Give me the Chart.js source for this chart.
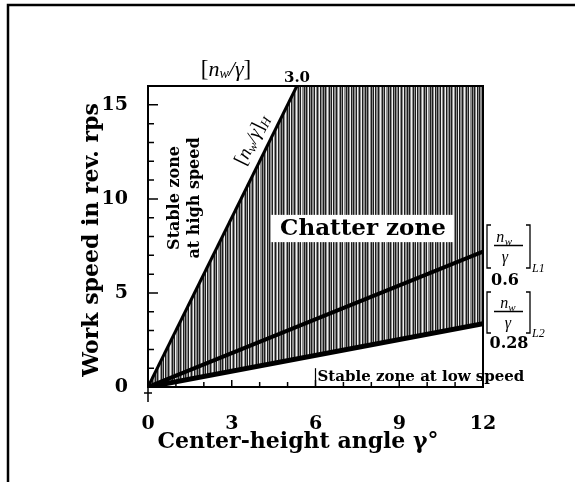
<!DOCTYPE html>
<html>
<head>
<meta charset="utf-8">
<script src="https://cdn.jsdelivr.net/npm/chart.js@4.4.0/dist/chart.umd.min.js"></script>
<style>
  html, body { margin: 0; padding: 0; background: #fff; }
  canvas { display: block; }
</style>
</head>
<body>
<canvas id="chart" width="575" height="482"></canvas>
<script>
// stability boundaries: gamma (deg) on x, work speed n_w (rps) on y
const highSpeedLine = [{x: 0, y: 0}, {x: 5.333, y: 16}];   // [n_w/γ]H  = 3.0
const lowSpeedLine1 = [{x: 0, y: 0}, {x: 12, y: 7.2}];     // [n_w/γ]L1 = 0.6
const lowSpeedLine2 = [{x: 0, y: 0}, {x: 12, y: 3.36}];    // [n_w/γ]L2 = 0.28
// chatter zone lies between the H line and the L2 line
const chatterZone = [{x: 0, y: 0}, {x: 5.333, y: 16}, {x: 12, y: 16}, {x: 12, y: 3.36}, {x: 0, y: 0}];

const xTicks = [0, 3, 6, 9, 12];
const yTicks = [0, 5, 10, 15];
const xMinor = [1, 2, 3, 4, 5, 6, 7, 8, 9, 10, 11];
const yMinor = [1, 2, 3, 4, 5, 6, 7, 8, 9, 10, 11, 12, 13, 14, 15];

const SERIF = '"DejaVu Serif", "Liberation Serif", serif';
const TIMES = '"Liberation Serif", "Times New Roman", serif';

// vertical hatching used for the chatter zone
function hatch() {
  const cols = 'kgwgkgkwggkgkgwkgkggkwgkgwkggkgkgwgkgkwkgg';
  const shade = {k: '#1e1e1e', w: '#f0f0f0', g: '#8e8e8e'};
  const c = document.createElement('canvas');
  c.width = cols.length;
  c.height = 2;
  const g = c.getContext('2d');
  for (let i = 0; i < cols.length; i++) {
    g.fillStyle = shade[cols[i]];
    g.fillRect(i, 0, 1, 2);
  }
  return g.createPattern(c, 'repeat');
}

// draws pieces of text in a row: [text, font, dy]
function richText(ctx, x, y, parts) {
  let w = 0;
  parts.forEach(p => { ctx.font = p[1]; w += ctx.measureText(p[0]).width; });
  let cx = x - w / 2;
  parts.forEach(p => {
    ctx.font = p[1];
    ctx.fillText(p[0], cx, y + (p[2] || 0));
    cx += ctx.measureText(p[0]).width;
  });
}

function ratioLabel(ctx, x, top, bottom, sub) {
  const mid = (top + bottom) / 2 - 1;
  ctx.lineWidth = 1.3;
  ctx.beginPath();
  ctx.moveTo(x + 5, top); ctx.lineTo(x + 1, top); ctx.lineTo(x + 1, bottom); ctx.lineTo(x + 5, bottom);
  ctx.moveTo(x + 40, top); ctx.lineTo(x + 44, top); ctx.lineTo(x + 44, bottom); ctx.lineTo(x + 40, bottom);
  ctx.moveTo(x + 8, mid); ctx.lineTo(x + 37, mid);
  ctx.stroke();
  ctx.textBaseline = 'alphabetic';
  richText(ctx, x + 22, mid - 4, [['n', 'italic 16px ' + TIMES], ['w', 'italic 11px ' + TIMES, 3]]);
  richText(ctx, x + 22, mid + 16, [['γ', 'italic 16px ' + TIMES]]);
  ctx.font = 'italic 12px ' + TIMES;
  ctx.textAlign = 'left';
  ctx.fillText(sub, x + 46, bottom + 4);
}

const annotate = {
  id: 'annotate',
  beforeDraw(chart) {
    const ctx = chart.ctx;
    ctx.save();
    ctx.fillStyle = '#fff';
    ctx.fillRect(0, 0, chart.width, chart.height);
    ctx.strokeStyle = '#000';
    ctx.lineWidth = 2.5;
    ctx.beginPath();
    ctx.moveTo(8, chart.height); ctx.lineTo(8, 5); ctx.lineTo(chart.width, 5);
    ctx.stroke();
    ctx.restore();
  },
  afterDatasetsDraw(chart) {
    const ctx = chart.ctx;
    const xs = chart.scales.x, ys = chart.scales.y;
    const a = chart.chartArea;
    const px = v => xs.getPixelForValue(v);
    const py = v => ys.getPixelForValue(v);
    ctx.save();
    ctx.fillStyle = '#000';
    ctx.strokeStyle = '#000';

    // frame and inward ticks
    ctx.lineWidth = 2;
    ctx.strokeRect(a.left, a.top, a.right - a.left, a.bottom - a.top);
    ctx.lineWidth = 1.5;
    ctx.beginPath();
    yMinor.forEach(v => {
      const len = yTicks.includes(v) ? 10 : 6;
      ctx.moveTo(a.left, py(v)); ctx.lineTo(a.left + len, py(v));
    });
    xMinor.forEach(v => {
      const len = xTicks.includes(v) ? 7 : 5;
      ctx.moveTo(px(v), a.bottom); ctx.lineTo(px(v), a.bottom - len);
    });
    ctx.moveTo(a.left, a.bottom); ctx.lineTo(a.left, a.bottom + 15);
    ctx.moveTo(a.left - 4, a.bottom + 6); ctx.lineTo(a.left + 4, a.bottom + 6);
    ctx.stroke();

    // chatter zone label
    ctx.fillStyle = '#fff';
    ctx.fillRect(px(4.4), py(9.15), px(10.95) - px(4.4), py(7.7) - py(9.15));
    ctx.fillStyle = '#000';
    ctx.font = 'bold 23px ' + SERIF;
    ctx.textAlign = 'center';
    ctx.textBaseline = 'middle';
    ctx.fillText('Chatter zone', px(7.7), py(8.42));

    // stable zone at high speed
    ctx.save();
    ctx.translate(px(1.33), py(10.05));
    ctx.rotate(-Math.PI / 2);
    ctx.font = 'bold 16px ' + SERIF;
    ctx.fillText('Stable zone', 0, -10);
    ctx.fillText('at high speed', 0, 10);
    ctx.restore();

    // [n_w/γ]H along the upper boundary
    ctx.save();
    const ang = Math.atan2(py(16) - py(0), px(5.333) - px(0));
    ctx.translate(px(4.25), py(12.75));
    ctx.rotate(ang);
    ctx.textAlign = 'left';
    ctx.textBaseline = 'middle';
    richText(ctx, 0, -16, [['[', '20px ' + TIMES], ['n', 'italic 19px ' + TIMES], ['w', 'italic 13px ' + TIMES, 4],
      ['/γ', 'italic 19px ' + TIMES], [']', '20px ' + TIMES], ['H', 'italic 13px ' + TIMES, 5]]);
    ctx.restore();

    // labels above the plot
    ctx.textAlign = 'left';
    ctx.textBaseline = 'middle';
    richText(ctx, 226, 70, [['[', '23px ' + TIMES], ['n', 'italic 22px ' + TIMES], ['w', 'italic 14px ' + TIMES, 4],
      ['/γ', 'italic 22px ' + TIMES], [']', '23px ' + TIMES]]);
    ctx.font = 'bold 15px ' + SERIF;
    ctx.textAlign = 'center';
    ctx.fillText('3.0', 297, 78);

    // low speed boundary labels
    ratioLabel(ctx, 486, 225, 268, 'L1');
    ratioLabel(ctx, 486, 292, 333, 'L2');
    ctx.font = 'bold 16px ' + SERIF;
    ctx.textAlign = 'center';
    ctx.textBaseline = 'middle';
    ctx.fillText('0.6', 505, 281);
    ctx.fillText('0.28', 509, 344);

    // stable zone at low speed
    ctx.lineWidth = 1.2;
    ctx.beginPath();
    ctx.moveTo(px(6), py(1.0)); ctx.lineTo(px(6), a.bottom);
    ctx.stroke();
    ctx.font = 'bold 15px ' + SERIF;
    ctx.textAlign = 'left';
    ctx.textBaseline = 'alphabetic';
    ctx.fillText('Stable zone at low speed', px(6) + 2, 381);

    // axis titles
    ctx.font = 'bold 22px ' + SERIF;
    ctx.textAlign = 'center';
    ctx.textBaseline = 'middle';
    ctx.fillText('Center-height angle γ°', 298, 442);
    ctx.save();
    ctx.translate(92, 240);
    ctx.rotate(-Math.PI / 2);
    ctx.fillText('Work speed in rev. rps', 0, 0);
    ctx.restore();

    ctx.restore();
  }
};

const tickFont = {family: SERIF, size: 19, weight: 'bold'};

new Chart(document.getElementById('chart'), {
  type: 'scatter',
  data: {
    datasets: [
      {data: highSpeedLine, showLine: true, borderColor: '#000', borderWidth: 3, pointRadius: 0},
      {data: lowSpeedLine1, showLine: true, borderColor: '#000', borderWidth: 4, pointRadius: 0},
      {data: lowSpeedLine2, showLine: true, borderColor: '#000', borderWidth: 5, pointRadius: 0},
      {data: chatterZone, showLine: true, borderWidth: 0, borderColor: 'rgba(0,0,0,0)',
       backgroundColor: hatch(), fill: 'shape', pointRadius: 0}
    ]
  },
  options: {
    responsive: false,
    animation: false,
    layout: {padding: {left: 0, top: 86, right: 92, bottom: 0}},
    plugins: {legend: {display: false}, tooltip: {enabled: false}},
    scales: {
      x: {
        type: 'linear', min: 0, max: 12,
        grid: {display: false, drawTicks: false},
        border: {display: false},
        afterBuildTicks: s => { s.ticks = xTicks.map(v => ({value: v})); },
        afterFit: s => { s.height = 95; },
        ticks: {padding: 26, color: '#000', font: tickFont}
      },
      y: {
        type: 'linear', min: 0, max: 16,
        grid: {display: false, drawTicks: false},
        border: {display: false},
        afterBuildTicks: s => { s.ticks = yTicks.map(v => ({value: v})); },
        afterFit: s => { s.width = 148; },
        ticks: {padding: 20, color: '#000', font: tickFont}
      }
    }
  },
  plugins: [annotate]
});
</script>
</body>
</html>
